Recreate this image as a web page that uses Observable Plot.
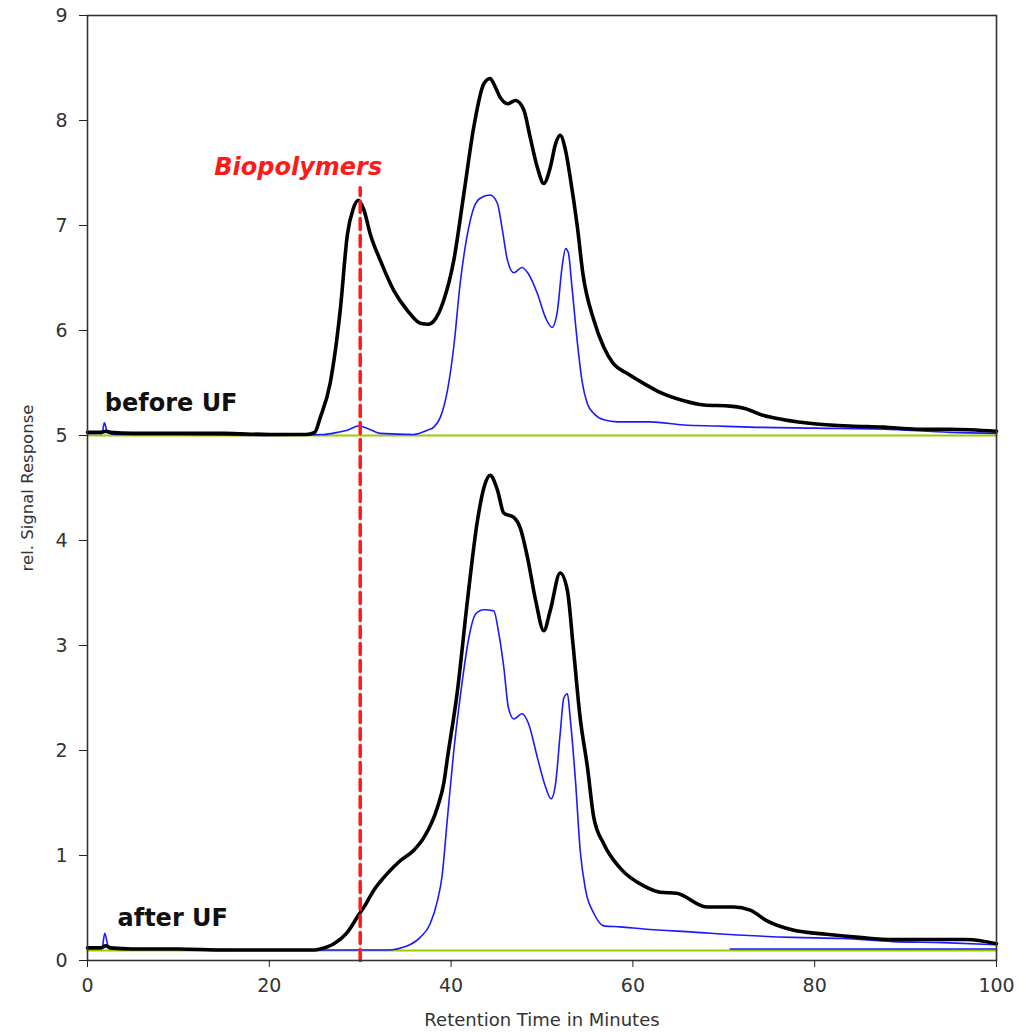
<!DOCTYPE html>
<html>
<head>
<meta charset="utf-8">
<script src="https://cdn.jsdelivr.net/npm/d3@7"></script>
<script src="https://cdn.jsdelivr.net/npm/@observablehq/plot@0.6"></script>
<style>
  html, body { margin: 0; padding: 0; background: #ffffff; }
  #chart svg { display: block; }
</style>
</head>
<body>
<div id="chart"></div>
<script>
// ---- Data ----
// Upper trace pair ("before UF"), offset by +5
const beforeBlackT = [0,1.5,2.0,2.5,5,10,15,20,24,25,25.6,26.7,27.8,28.6,29.2,29.8,30.4,31.1,32.2,33.7,35.2,36.6,37.5,38.1,39.2,40.3,41.4,42.5,43.6,44.3,44.8,45.4,46.2,47.1,48.0,48.7,49.5,50.2,50.9,51.5,52.0,52.6,53.1,53.9,54.5,55.7,56.8,57.8,59.4,61.5,63.0,65.6,67.8,70.7,72.2,74.4,76.6,80.2,83.9,87.6,91.2,94.9,100];
const beforeBlackV = [5.03,5.03,5.04,5.03,5.02,5.02,5.02,5.01,5.01,5.03,5.17,5.50,6.19,6.92,7.15,7.24,7.15,6.92,6.67,6.38,6.19,6.07,6.06,6.09,6.29,6.67,7.30,7.94,8.35,8.40,8.33,8.22,8.16,8.19,8.10,7.84,7.55,7.40,7.55,7.78,7.86,7.71,7.46,6.98,6.54,6.10,5.84,5.69,5.59,5.48,5.41,5.33,5.29,5.28,5.26,5.19,5.15,5.11,5.09,5.08,5.06,5.06,5.04];

const beforeBlueT = [0,1.6,1.85,2.2,3,10,20,26,27.5,28.6,29.8,31,32.2,35.9,37.4,38.1,38.8,39.6,40.3,41.0,41.8,42.5,43.2,44.3,45.1,45.6,46.2,46.9,47.8,48.5,49.5,50.4,51.1,51.7,52.2,52.6,52.9,53.3,53.9,54.4,55.0,55.7,56.8,58.3,61.9,65.6,69.2,72.9,80.2,87.6,94.9,100];
const beforeBlueV = [5.02,5.02,5.12,5.03,5.01,5.01,5.00,5.01,5.03,5.05,5.09,5.06,5.02,5.01,5.05,5.08,5.17,5.43,5.85,6.45,6.92,7.17,7.26,7.29,7.21,6.98,6.67,6.55,6.60,6.54,6.35,6.12,6.03,6.19,6.60,6.78,6.74,6.41,5.88,5.52,5.30,5.21,5.15,5.13,5.13,5.10,5.09,5.08,5.07,5.06,5.03,5.02];

// Lower trace pair ("after UF")
const afterBlackT = [0,1.5,2.0,2.5,5,10,15,20,25,25.6,27.1,28.6,29.8,30.5,31.5,32.2,33.0,34.4,35.9,37.0,38.5,39.2,39.6,40.7,41.8,42.9,43.6,44.3,45.1,45.8,46.9,47.6,48.4,49.3,50.2,50.9,52.0,52.8,53.4,54.2,55.0,55.7,56.8,58.6,61.2,63.0,64.8,68.1,71.1,72.9,74.7,77.6,81.3,84.9,88.6,92.3,96.7,100];
const afterBlackV = [0.12,0.12,0.14,0.12,0.11,0.11,0.10,0.10,0.10,0.11,0.16,0.27,0.43,0.52,0.67,0.75,0.83,0.95,1.05,1.17,1.46,1.69,1.93,2.57,3.43,4.19,4.50,4.62,4.48,4.26,4.22,4.12,3.84,3.43,3.14,3.33,3.69,3.52,3.02,2.31,1.84,1.36,1.11,0.88,0.71,0.65,0.64,0.51,0.51,0.48,0.38,0.29,0.25,0.22,0.20,0.20,0.20,0.16];

const afterBlueT = [0,1.6,1.9,2.3,3,10,20,30,33,35.2,36.6,37.7,38.5,39.0,39.6,40.3,41.2,41.9,42.7,43.6,44.7,45.2,45.8,46.3,46.9,47.8,48.5,49.5,50.4,51.0,51.5,52.0,52.4,52.8,53.1,53.7,54.2,54.8,55.7,56.8,58.6,61.2,66.7,72.2,77.6,83.1,88.6,94.1,100];
const afterBlueV = [0.12,0.12,0.26,0.13,0.11,0.11,0.10,0.10,0.10,0.14,0.22,0.35,0.57,0.80,1.36,2.00,2.64,3.05,3.30,3.34,3.33,3.14,2.79,2.41,2.30,2.35,2.26,1.93,1.65,1.54,1.69,2.16,2.50,2.54,2.31,1.69,1.05,0.67,0.45,0.33,0.32,0.30,0.27,0.24,0.22,0.21,0.18,0.17,0.15];

const afterBlueFlatT = [70.7, 100];
const afterBlueFlatV = [0.11, 0.11];

// Baselines
const baselineLevels = [5.0, 0.095];

// Biopolymers marker
const markerTime = 30;
const markerTop = 7.36;
const markerLabel = "Biopolymers";

// Labels
const panelLabels = [
  {t: 1.9, v: 5.23, label: "before UF"},
  {t: 3.3, v: 0.33, label: "after UF"}
];
const xTicks = [0, 20, 40, 60, 80, 100];
const yTicks = [0, 1, 2, 3, 4, 5, 6, 7, 8, 9];
const xLabel = "Retention Time in Minutes";
const yLabel = "rel. Signal Response";

// ---- Build tables ----
const zip = (T, V) => T.map((t, i) => ({t, v: V[i]}));
const beforeBlack = zip(beforeBlackT, beforeBlackV);
const beforeBlue = zip(beforeBlueT, beforeBlueV);
const afterBlack = zip(afterBlackT, afterBlackV);
const afterBlue = zip(afterBlueT, afterBlueV);
const afterBlueFlat = zip(afterBlueFlatT, afterBlueFlatV);
const baselines = baselineLevels.flatMap((lv, i) => [{t: 0, v: lv, g: i}, {t: 100, v: lv, g: i}]);
const marker = [{t: markerTime, v: 0}, {t: markerTime, v: markerTop}];

const BLACK = "#000000";
const BLUE = "#1a1aff";
const GREEN = "#99cc00";
const RED = "#ff1a1a";
const CURVE = "monotone-x";

const chart = Plot.plot({
  width: 1026,
  height: 1032,
  marginLeft: 87,
  marginRight: 30,
  marginTop: 15,
  marginBottom: 72,
  style: {fontFamily: "DejaVu Sans", fontSize: "19px", background: "#ffffff", color: "#222"},
  x: {domain: [0, 100]},
  y: {domain: [0, 9]},
  marks: [
    Plot.line(baselines, {x: "t", y: "v", z: "g", stroke: GREEN, strokeWidth: 2}),
    Plot.line(beforeBlue, {x: "t", y: "v", stroke: BLUE, strokeWidth: 1.6, curve: CURVE}),
    Plot.line(afterBlue, {x: "t", y: "v", stroke: BLUE, strokeWidth: 1.6, curve: CURVE}),
    Plot.line(afterBlueFlat, {x: "t", y: "v", stroke: BLUE, strokeWidth: 1.6}),
    Plot.line(beforeBlack, {x: "t", y: "v", stroke: BLACK, strokeWidth: 3.6, strokeLinejoin: "round", curve: CURVE}),
    Plot.line(afterBlack, {x: "t", y: "v", stroke: BLACK, strokeWidth: 3.6, strokeLinejoin: "round", curve: CURVE}),
    Plot.line(marker, {x: "t", y: "v", stroke: RED, strokeWidth: 3.5, strokeDasharray: "11,6"}),
    Plot.text([markerLabel], {x: markerTime, y: markerTop, dx: -62, dy: -13, text: d => d, fill: RED,
      fontSize: 24, fontWeight: "bold", fontStyle: "italic", fontFamily: "DejaVu Sans", textAnchor: "middle", lineAnchor: "bottom"}),
    Plot.text(panelLabels, {x: "t", y: "v", text: "label", fill: "#111", fontSize: 24, fontWeight: "bold",
      fontFamily: "DejaVu Sans", textAnchor: "start", lineAnchor: "bottom"}),
    Plot.frame({stroke: "#333", strokeWidth: 1.6}),
    Plot.axisX({ticks: xTicks, tickSize: 7, tickPadding: 11, tickFormat: d => String(d), label: null,
      stroke: "#222", fill: "#333", fontSize: 19}),
    Plot.axisY({ticks: yTicks, tickSize: 8, tickPadding: 12, tickFormat: d => String(d), label: null,
      stroke: "#222", fill: "#333", fontSize: 19}),
    Plot.text([xLabel], {frameAnchor: "bottom", dy: 60, text: d => d, fontSize: 18, fill: "#333", textAnchor: "middle", lineAnchor: "middle"}),
    Plot.text([yLabel], {frameAnchor: "left", dx: -60, rotate: -90, text: d => d, fontSize: 16.5, fill: "#333", textAnchor: "middle", lineAnchor: "middle"})
  ]
});
document.getElementById("chart").appendChild(chart);
</script>
</body>
</html>
